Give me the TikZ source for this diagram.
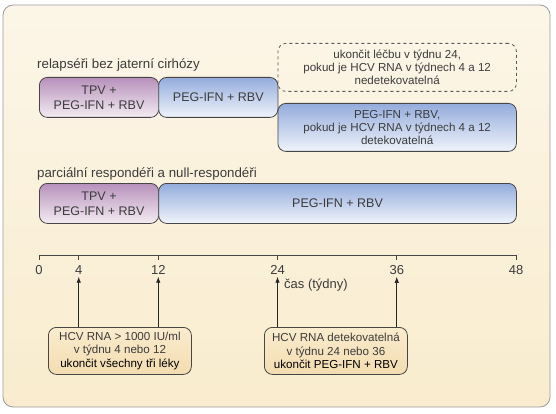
\documentclass[tikz,border=0pt]{standalone}
\usepackage{fontspec}
\setmainfont{Liberation Sans}
\usetikzlibrary{arrows.meta}

\definecolor{txt}{RGB}{60,60,60}
\definecolor{boxline}{RGB}{70,70,70}
\definecolor{frameline}{RGB}{155,155,155}
\definecolor{creamtop}{RGB}{252,246,232}
\definecolor{creambot}{RGB}{249,236,206}
\definecolor{tpvtop}{RGB}{183,145,188}
\definecolor{tpvmid}{RGB}{214,190,216}
\definecolor{tpvbot}{RGB}{244,236,242}
\definecolor{pegtop}{RGB}{148,172,220}
\definecolor{pegmid}{RGB}{190,206,236}
\definecolor{pegbot}{RGB}{240,244,251}
\definecolor{notetop}{RGB}{250,236,206}
\definecolor{notebot}{RGB}{243,220,176}

\begin{document}
\begin{tikzpicture}
[
  x=1pt, y=-1pt,
  box/.style={draw=boxline,line width=0.8pt,rounded corners=8,inner sep=0,align=center,
    anchor=north west,text=txt,font=\fontsize{12.5}{15}\selectfont},
  tpv/.style={box,top color=tpvtop,middle color=tpvmid,bottom color=tpvbot},
  peg/.style={box,top color=pegtop,middle color=pegmid,bottom color=pegbot},
  small/.style={font=\fontsize{11.6}{13}\selectfont},
  maybe/.style={box,small,draw=boxline!90,dashed},
  note/.style={box,font=\fontsize{11.6}{13.5}\selectfont,top color=notetop,bottom color=notebot},
  lbl/.style={inner sep=0,anchor=base west,text=txt,font=\fontsize{13.3}{16}\selectfont},
  tick/.style={inner sep=2pt,anchor=base,text=txt,font=\fontsize{13}{16}\selectfont},
  axisline/.style={line width=0.8pt,boxline},
  arr/.style={line width=0.8pt,black!85,-{Latex[length=6pt,width=4.5pt]}}
]

\useasboundingbox (0,0) rectangle (556,414);

% background
\draw[frameline,line width=0.8pt,rounded corners=10,top color=creamtop,bottom color=creambot]
  (3,5) rectangle (550,407);

% relapsers
\node[lbl] (rowA) at (37,69) {relapséři bez jaterní cirhózy};
\node[tpv,minimum width=119.25,minimum height=40] (tpvA) at (39,77) {TPV +\\PEG-IFN + RBV};
\node[peg,minimum width=119.25,minimum height=40] (pegA) at (158.25,77) {PEG-IFN + RBV};
\node[maybe,minimum width=238.5,minimum height=48] (stopA) at (277.5,43)
  {ukončit léčbu v týdnu 24,\\pokud je HCV RNA v týdnech 4 a 12\\nedetekovatelná};
\node[peg,small,minimum width=238.5,minimum height=48] (pegB) at (277.5,103)
  {PEG-IFN + RBV,\\pokud je HCV RNA v týdnech 4 a 12\\detekovatelná};

% partial and null responders
\node[lbl] (rowB) at (37,177) {parciální respondéři a null-respondéři};
\node[tpv,minimum width=119.25,minimum height=40] (tpvB) at (39,183) {TPV +\\PEG-IFN + RBV};
\node[peg,minimum width=357.75,minimum height=40] (pegC) at (158.25,183) {PEG-IFN + RBV};

% time axis
\draw[axisline] (39,260) -- (39,255) -- (516,255) -- (516,260);
\foreach \w in {4,12,24,36}
  \draw[axisline] ({39+\w*9.9375},255) -- ++(0,5);
\foreach \w in {0,4,12,24,36,48}
  \node[tick] (t\w) at ({39+\w*9.9375},274.5) {\w};
\node[tick,inner sep=0,anchor=base west] (time) at (284,288) {čas (týdny)};

% stopping rules
\node[note,minimum width=143,minimum height=47] (stopAll) at (48,327)
  {HCV RNA > 1000 IU/ml\\v týdnu 4 nebo 12\\\textcolor{black}{ukončit všechny tři léky}};
\node[note,minimum width=143,minimum height=47] (stopPeg) at (264,327)
  {HCV RNA detekovatelná\\v týdnu 24 nebo 36\\\textcolor{black}{ukončit PEG-IFN + RBV}};

\draw[arr] (stopAll.north -| t4) -- (t4.south);
\draw[arr] (stopAll.north -| t12) -- (t12.south);
\draw[arr] (stopPeg.north -| t24) -- (t24.south);
\draw[arr] (stopPeg.north -| t36) -- (t36.south);

\end{tikzpicture}
\end{document}
